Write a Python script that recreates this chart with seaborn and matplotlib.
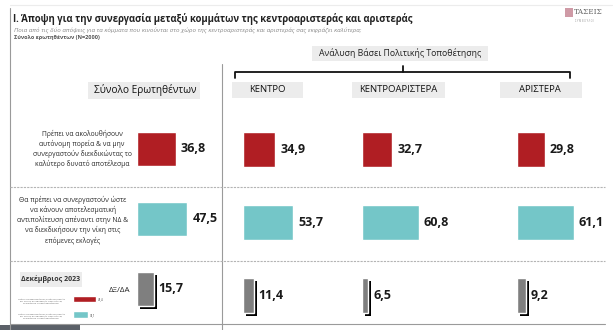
import matplotlib
matplotlib.use("Agg")
import matplotlib.pyplot as plt
import matplotlib.patheffects as pe
from matplotlib.patches import Rectangle
import seaborn as sns
import pandas as pd

sns.set_theme(style="white")
plt.rcParams['font.family'] = ['Open Sans', 'DejaVu Sans']

# ---------------- data ----------------
panels = ["Σύνολο Ερωτηθέντων", "ΚΕΝΤΡΟ", "ΚΕΝΤΡΟΑΡΙΣΤΕΡΑ", "ΑΡΙΣΤΕΡΑ"]
answers = ["Αυτόνομη πορεία", "Συνεργασία", "ΔΞ/ΔΑ"]
total = [36.8, 47.5, 15.7]
kentro = [34.9, 53.7, 11.4]
kentroaristera = [32.7, 60.8, 6.5]
aristera = [29.8, 61.1, 9.2]
dec2023_answers = ["Αυτόνομη πορεία", "Συνεργασία"]
dec2023 = [49.4, 32.1]
row_labels = [
    "Πρέπει να ακολουθήσουν\nαυτόνομη πορεία & να μην\nσυνεργαστούν διεκδικώντας το\nκαλύτερο δυνατό αποτέλεσμα",
    "Θα πρέπει να συνεργαστούν ώστε\nνα κάνουν αποτελεσματική\nαντιπολίτευση απέναντι στην ΝΔ &\nνα διεκδικήσουν την νίκη στις\nεπόμενες εκλογές",
]
title = "Ι. Άποψη για την συνεργασία μεταξύ κομμάτων της κεντροαριστεράς και αριστεράς"
subtitle = ("Ποια από τις δύο απόψεις για τα κόμματα που κινούνται στο χώρο της "
            "κεντροαριστεράς και αριστεράς σας εκφράζει καλύτερα;")
base = "Σύνολο ερωτηθέντων (Ν=2000)"
group_title = "Ανάλυση Βάσει Πολιτικής Τοποθέτησης"

colors = ["#B01E23", "#74C6C8", "#7F7F7F"]

W, H = 615, 330
fig = plt.figure(figsize=(W / 100, H / 100), dpi=100)
fig.patch.set_facecolor("white")


def fx(x):
    return x / W


def fy(y):
    return 1 - y / H


# background layer for boxes and lines
bg = fig.add_axes([0, 0, 1, 1], zorder=0)
bg.set_xlim(0, W)
bg.set_ylim(H, 0)
bg.axis("off")

# header boxes
for (x0, x1, y0, y1) in [(88, 200, 82, 99), (232, 303, 82, 98), (352, 445, 82, 98),
                         (500, 582, 82, 98), (312, 488, 46, 61), (20, 82, 272, 287)]:
    bg.add_patch(Rectangle((x0, y0), x1 - x0, y1 - y0, color="#ececec", lw=0))

# frame lines
bg.plot([10, 10], [8, 330], color="#9a9a9a", lw=0.8)
bg.plot([10, 612], [5, 5], color="#ececec", lw=0.8)
bg.plot([222, 222], [64, 330], color="#9a9a9a", lw=0.8)
for yy in [187, 261]:
    bg.plot([10, 605], [yy, yy], color="#b4b4b4", lw=0.8, ls=(0, (2, 1)))
bg.plot([10, 605], [324, 324], color="#9a9a9a", lw=0.8)
# bracket
bg.plot([235, 235, 570, 570], [78, 72, 72, 78], color="#111111", lw=1.3)
bg.plot([403, 403], [72, 66], color="#111111", lw=1.3)
# dark overlay strip bottom-left
bg.add_patch(Rectangle((0, 325), 80, 6, color="#5b6068", lw=0))
# logo square
bg.add_patch(Rectangle((565, 8), 8, 9, color="#cf9aa6", lw=0))

# ---------------- bar panels ----------------
panel_data = [total, kentro, kentroaristera, aristera]
panel_x0 = [137, 243, 362, 517]
panel_scale = [1.06, 0.93, 0.93, 0.93]
panel_wpx = [85, 95, 95, 90]
panel_top = [114, 113, 113, 113]
panel_row = [70, 73, 73, 73]
y_bot_px = 330

for vals, x0, sc, wpx, top, row in zip(panel_data, panel_x0, panel_scale, panel_wpx,
                                       panel_top, panel_row):
    ax = fig.add_axes([fx(x0), fy(y_bot_px), wpx / W, (y_bot_px - top) / H], zorder=2)
    df = pd.DataFrame({"answer": answers, "value": vals})
    sns.barplot(data=df, y="answer", x="value", hue="answer", palette=colors,
                orient="h", width=0.48, legend=False, ax=ax, saturation=1)
    ax.set_xlim(0, wpx / sc)
    ax.set_ylim((y_bot_px - top) / row - 0.5, -0.5)
    ax.axis("off")
    ax.patch.set_alpha(0)
    for i, p in enumerate(ax.patches):
        if i == 2:
            p.set_path_effects([pe.SimplePatchShadow(offset=(2.2, -2.2), shadow_rgbFace="black",
                                                     alpha=1), pe.Normal()])
    for i, v in enumerate(vals):
        ax.text(v + 5 / sc, i, f"{v:.1f}".replace(".", ","), va="center", ha="left",
                fontsize=9, fontweight="bold", color="#1a1a1a")

# ---------------- texts ----------------
fig.text(fx(13), fy(19), title, fontsize=6.85, fontweight="bold", color="#222222", va="center",
         family=["Liberation Sans Narrow", "Open Sans", "DejaVu Sans"])
fig.text(fx(14), fy(30), subtitle, fontsize=4.5, style="italic", color="#8a8a8a", va="center",
         family=["Liberation Sans Narrow", "Open Sans", "DejaVu Sans"])
fig.text(fx(14), fy(37), base, fontsize=4.0, fontweight="bold", color="#555555", va="center")

fig.text(fx(400), fy(53.5), group_title, fontsize=6.3, ha="center", va="center", color="#222222")
head_x = [145, 267, 398, 540]
for name, hx in zip(panels, head_x):
    fig.text(fx(hx), fy(90), name, fontsize=7.3 if hx == 145 else 6.8, ha="center",
             va="center", color="#111111")

fig.text(fx(82), fy(149), row_labels[0], fontsize=4.9, ha="center", va="center",
         color="#2a2a2a", linespacing=1.35)
fig.text(fx(73), fy(220), row_labels[1], fontsize=4.9, ha="center", va="center",
         color="#2a2a2a", linespacing=1.35)
fig.text(fx(51), fy(279.5), "Δεκέμβριος 2023", fontsize=5, fontweight="bold", ha="center",
         va="center", color="#333333")
fig.text(fx(120), fy(290), "ΔΞ/ΔΑ", fontsize=5.8, ha="center", va="center", color="#222222")

# mini December 2023 chart
mini = fig.add_axes([fx(73), fy(324), 40 / W, 32 / H], zorder=2)
dfm = pd.DataFrame({"answer": dec2023_answers, "value": dec2023})
sns.barplot(data=dfm, y="answer", x="value", hue="answer", palette=colors[:2], orient="h",
            width=0.42, legend=False, ax=mini, saturation=1)
mini.set_xlim(0, 85)
mini.set_ylim(1.6, -0.45)
mini.axis("off")
mini.patch.set_alpha(0)
for i, v in enumerate(dec2023):
    mini.text(v + 3, i, f"{v:.1f}".replace(".", ","), fontsize=2, va="center", color="#333333")
for yy in [301, 316]:
    fig.text(fx(41), fy(yy),
             "Πρέπει να ακολουθήσουν αυτόνομη πορεία\nκαι να μην συνεργαστούν διεκδικώντας\nτο καλύτερο δυνατό αποτέλεσμα",
             fontsize=1.6, ha="center", va="center", color="#555555")

# logo
fig.text(fx(574), fy(12), "ΤΑΣΕΙΣ", fontsize=5.2, color="#666666", va="center",
         family="DejaVu Serif")
fig.text(fx(575), fy(20.5), "Σ Υ Μ Β Ο Υ Λ Ο Ι", fontsize=1.8, color="#999999", va="center")

fig.savefig("out.png", dpi=100, facecolor="white")
